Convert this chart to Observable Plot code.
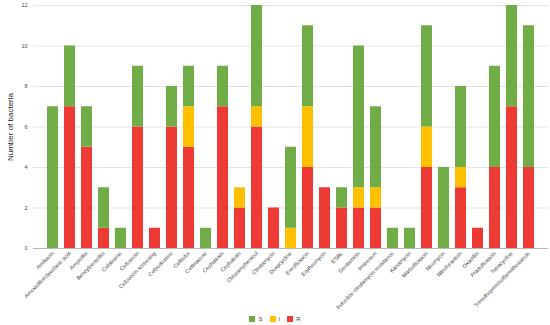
<!DOCTYPE html>
<html>
<head>
<meta charset="utf-8">
<script src="https://cdn.jsdelivr.net/npm/d3@7"></script>
<script src="https://cdn.jsdelivr.net/npm/@observablehq/plot@0.6"></script>
<style>
  html, body { margin: 0; padding: 0; background: #fff; }
  body { width: 550px; height: 325px; overflow: hidden; font-family: "Liberation Sans", Arial, sans-serif; }
  #legend { display: flex; justify-content: center; gap: 7px; font-size: 6px; color: #444; height: 12px; align-items: center; margin-left: 0; }
  #legend span.sw { display: inline-block; width: 6px; height: 6px; margin-right: 3px; vertical-align: middle; }
  #legend div { display: flex; align-items: center; }
</style>
</head>
<body>
<div id="chart"></div>
<div id="legend"></div>
<script>
const categories = ["Amikacin", "Amoxicillin/clavulanic acid", "Ampicillin", "Benzylpenicillin", "Cefalexine", "Cefovecin", "Cefovecin screening", "Cefpodoxime", "Ceftiofur", "Ceftriaxone", "Cephalexin", "Cephalotin", "Chloramphenicol", "Clindamycin", "Doxycycline", "Enrofloxacin", "Erythromycin", "ESBL", "Gentamicin", "Imipenem", "Inducible clindamycin resistance", "Kanamycin", "Marbofloxacin", "Neomycin", "Nitrofurantoin", "Oxacillin", "Pradofloxacin", "Tetracycline", "Trimethoprim/sulfamethoxazole"];
const rValues = [0, 7, 5, 1, 0, 6, 1, 6, 5, 0, 7, 2, 6, 2, 0, 4, 3, 2, 2, 2, 0, 0, 4, 0, 3, 1, 4, 7, 4];
const iValues = [0, 0, 0, 0, 0, 0, 0, 0, 2, 0, 0, 1, 1, 0, 1, 3, 0, 0, 1, 1, 0, 0, 2, 0, 1, 0, 0, 0, 0];
const sValues = [7, 3, 2, 2, 1, 3, 0, 2, 2, 1, 2, 0, 5, 0, 4, 4, 0, 1, 7, 4, 1, 1, 5, 4, 4, 0, 5, 5, 7];
const seriesNames = ["R", "I", "S"];
const seriesColors = ["#ee3a35", "#ffc000", "#70ad47"];
const yTicks = [0, 2, 4, 6, 8, 10, 12];

const rows = [];
categories.forEach((c, i) => {
  rows.push({category: c, series: "R", value: rValues[i]});
  rows.push({category: c, series: "I", value: iValues[i]});
  rows.push({category: c, series: "S", value: sValues[i]});
});

const chart = Plot.plot({
  width: 550,
  height: 313,
  marginTop: 5,
  marginBottom: 65,
  marginLeft: 33,
  marginRight: 2,
  style: {fontFamily: "Liberation Sans, Arial, sans-serif", fontSize: "5.5px", color: "#444", overflow: "visible"},
  x: {domain: categories, paddingInner: 0.36, paddingOuter: 0.33, label: null},
  y: {domain: [0, 12], ticks: yTicks, label: "Number of bacteria"},
  color: {domain: seriesNames, range: seriesColors},
  marks: [
    Plot.gridY(yTicks, {stroke: "#e3e3e3", strokeOpacity: 1, strokeWidth: 1}),
    Plot.axisY({ticks: yTicks, tickSize: 0, tickPadding: 6, label: "Number of bacteria", labelAnchor: "center", labelArrow: "none", labelOffset: 26, fontSize: 5.5}),
    Plot.axisX({tickRotate: -45, tickSize: 0, tickPadding: 4, fontSize: 5.5, label: null}),
    Plot.barY(rows, Plot.stackY({x: "category", y: "value", fill: "series", order: seriesNames})),
    Plot.ruleY([0], {stroke: "#b8b8b8"})
  ]
});
document.getElementById("chart").appendChild(chart);

// style the y-axis label
chart.querySelectorAll("g[aria-label='y-axis label'] text").forEach(t => { t.style.fontSize = "8px"; t.style.fill = "#222"; });

const legend = document.getElementById("legend");
["S", "I", "R"].forEach(name => {
  const idx = seriesNames.indexOf(name);
  const d = document.createElement("div");
  d.innerHTML = `<span class="sw" style="background:${seriesColors[idx]}"></span>${name}`;
  legend.appendChild(d);
});
</script>
</body>
</html>
